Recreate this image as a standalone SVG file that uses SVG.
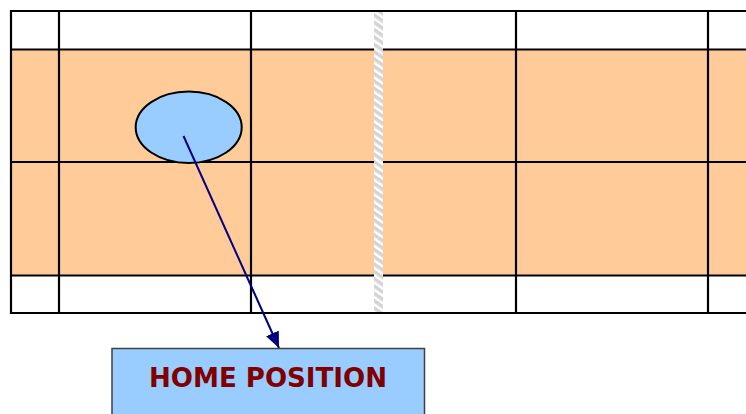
<svg xmlns="http://www.w3.org/2000/svg" width="746" height="414" viewBox="0 0 746 414">
  <style>
    .grid { stroke: #000; stroke-width: 2.2; fill: none; }
    .conn { stroke: #000080; stroke-width: 2; fill: none; }
    .label { font-family: "Comic Sans MS", "DejaVu Sans", "Liberation Sans", sans-serif; font-weight: bold; font-size: 26px; fill: #800000; }
  </style>
  <defs>
    <pattern id="hatch" width="6" height="6" patternUnits="userSpaceOnUse" patternTransform="rotate(-55)">
      <rect width="6" height="6" fill="#d4d4d4"/>
      <rect width="2.5" height="6" fill="#ffffff"/>
    </pattern>
    <marker id="arrowhead" viewBox="0 0 16 14" refX="16" refY="7" markerWidth="16" markerHeight="14" markerUnits="userSpaceOnUse" orient="auto">
      <path d="M0,0 L16,7 L0,14 z" fill="#000080"/>
    </marker>
  </defs>

  <g id="grid">
    <rect x="11" y="49.5" width="735" height="226" fill="#ffcc99"/>
    <line class="grid" x1="11" y1="11" x2="746" y2="11"/>
    <line class="grid" x1="11" y1="49.5" x2="746" y2="49.5"/>
    <line class="grid" x1="11" y1="162" x2="746" y2="162"/>
    <line class="grid" x1="11" y1="275.5" x2="746" y2="275.5"/>
    <line class="grid" x1="11" y1="313" x2="746" y2="313"/>
    <line class="grid" x1="11" y1="10" x2="11" y2="314"/>
    <line class="grid" x1="59" y1="11" x2="59" y2="313"/>
    <line class="grid" x1="251" y1="11" x2="251" y2="313"/>
    <line class="grid" x1="516" y1="11" x2="516" y2="313"/>
    <line class="grid" x1="708" y1="11" x2="708" y2="313"/>
    <rect x="374" y="12" width="9" height="300" fill="url(#hatch)"/>
  </g>

  <g id="ball">
    <ellipse cx="188.7" cy="127.3" rx="53" ry="35.7" fill="#99ccff" stroke="#000" stroke-width="2"/>
  </g>

  <g id="connectors">
    <line class="conn" x1="183.5" y1="136" x2="279" y2="348" marker-end="url(#arrowhead)"/>
  </g>

  <g id="home-position">
    <rect x="112" y="348.5" width="312.5" height="70" fill="#99ccff" stroke="#404040" stroke-width="1.5"/>
    <text class="label" x="149" y="387" textLength="238" lengthAdjust="spacingAndGlyphs">HOME POSITION</text>
  </g>
</svg>
